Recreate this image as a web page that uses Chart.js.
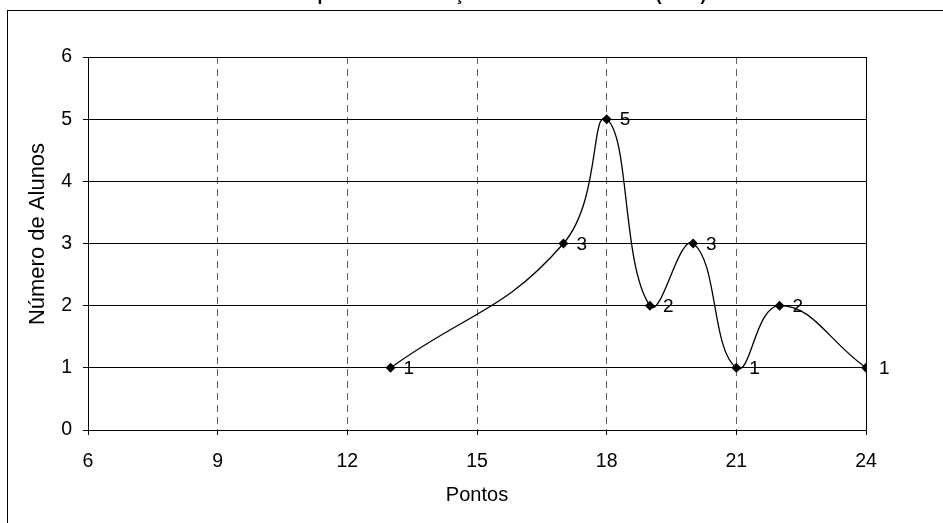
<!DOCTYPE html>
<html>
<head>
<meta charset="utf-8">
<title>Pontos</title>
<script src="https://cdn.jsdelivr.net/npm/chart.js@4/dist/chart.umd.min.js"></script>
<style>
  body { margin: 0; background: #fff; }
  canvas { display: block; }
</style>
</head>
<body>
<canvas id="grafico" width="943" height="523"></canvas>
<script>
// pontos obtidos e número de alunos em cada pontuação
let pontos = [13, 17, 18, 19, 20, 21, 22, 24];
let alunos = [1, 3, 5, 2, 3, 1, 2, 1];

let tituloGrafico = "Gráfico de pontos da avaliação final de Matemática (2008)";
let tituloX = "Pontos";
let tituloY = "Número de Alunos";

let fonte = "Arial, 'Liberation Sans', sans-serif";

// moldura externa, título (cortado no topo), título do eixo Y e borda da área do gráfico
const molduraPlugin = {
    id: "moldura",
    beforeDraw(chart) {
        let ctx = chart.ctx;
        ctx.save();
        ctx.fillStyle = "#fff";
        ctx.fillRect(0, 0, chart.width, chart.height);
        ctx.strokeStyle = "#000";
        ctx.lineWidth = 1;
        ctx.strokeRect(7.5, 10.5, chart.width + 20, chart.height + 20);
        ctx.fillStyle = "#000";
        ctx.font = "bold 17.5px " + fonte;
        ctx.textAlign = "left";
        ctx.textBaseline = "alphabetic";
        ctx.fillText(tituloGrafico, 226, 0);
        ctx.restore();
    },
    afterDraw(chart) {
        let a = chart.chartArea;
        let ctx = chart.ctx;
        ctx.save();
        ctx.strokeStyle = "#000";
        ctx.lineWidth = 1;
        ctx.strokeRect(Math.round(a.left) + 0.5, Math.round(a.top) + 0.5,
            Math.round(a.right - a.left), Math.round(a.bottom - a.top));

        ctx.translate(38, 234);
        ctx.rotate(-Math.PI / 2);
        ctx.fillStyle = "#000";
        ctx.font = "22px " + fonte;
        ctx.textAlign = "center";
        ctx.textBaseline = "middle";
        ctx.fillText(tituloY, 0, 0);
        ctx.restore();
    }
};

// rótulo com o valor ao lado de cada ponto
const rotulosPlugin = {
    id: "rotulos",
    afterDatasetsDraw(chart) {
        let ctx = chart.ctx;
        let meta = chart.getDatasetMeta(0);
        ctx.save();
        ctx.fillStyle = "#000";
        ctx.font = "19px " + fonte;
        ctx.textAlign = "left";
        ctx.textBaseline = "middle";
        meta.data.forEach((p, i) => {
            ctx.fillText(String(alunos[i]), p.x + 13, p.y + 1);
        });
        ctx.restore();
    }
};

let ctx = document.getElementById("grafico").getContext("2d");
new Chart(ctx, {
    type: "line",
    data: {
        datasets: [{
            data: pontos.map((x, i) => ({ x: x, y: alunos[i] })),
            borderColor: "#000",
            borderWidth: 1.3,
            tension: 0.45,
            fill: false,
            pointStyle: "rectRot",
            pointRadius: 5,
            pointBackgroundColor: "#000",
            pointBorderColor: "#000",
            pointBorderWidth: 0
        }]
    },
    options: {
        responsive: false,
        devicePixelRatio: 1,
        animation: false,
        layout: { padding: { top: 57, right: 77, bottom: 0, left: 0 } },
        plugins: {
            legend: { display: false },
            tooltip: { enabled: false }
        },
        scales: {
            x: {
                type: "linear",
                min: 6,
                max: 24,
                ticks: { stepSize: 3, color: "#000", font: { family: fonte, size: 19.5 }, padding: 15 },
                grid: {
                    color: "#606060",
                    tickColor: "#000",
                    tickBorderDash: [],
                    tickLength: 5
                },
                border: { display: true, color: "#000", dash: [7, 5] },
                title: {
                    display: true,
                    text: tituloX,
                    color: "#000",
                    font: { family: fonte, size: 20 },
                    padding: { top: 0, bottom: 16 }
                },
                afterFit(scale) { scale.height = 93; }
            },
            y: {
                min: 0,
                max: 6,
                ticks: { stepSize: 1, color: "#000", font: { family: fonte, size: 19.5 }, padding: 11 },
                grid: { color: "#000", tickColor: "#000", tickLength: 5 },
                border: { display: true, color: "#000" },
                afterFit(scale) { scale.width = 88; }
            }
        }
    },
    plugins: [molduraPlugin, rotulosPlugin]
});
</script>
</body>
</html>
